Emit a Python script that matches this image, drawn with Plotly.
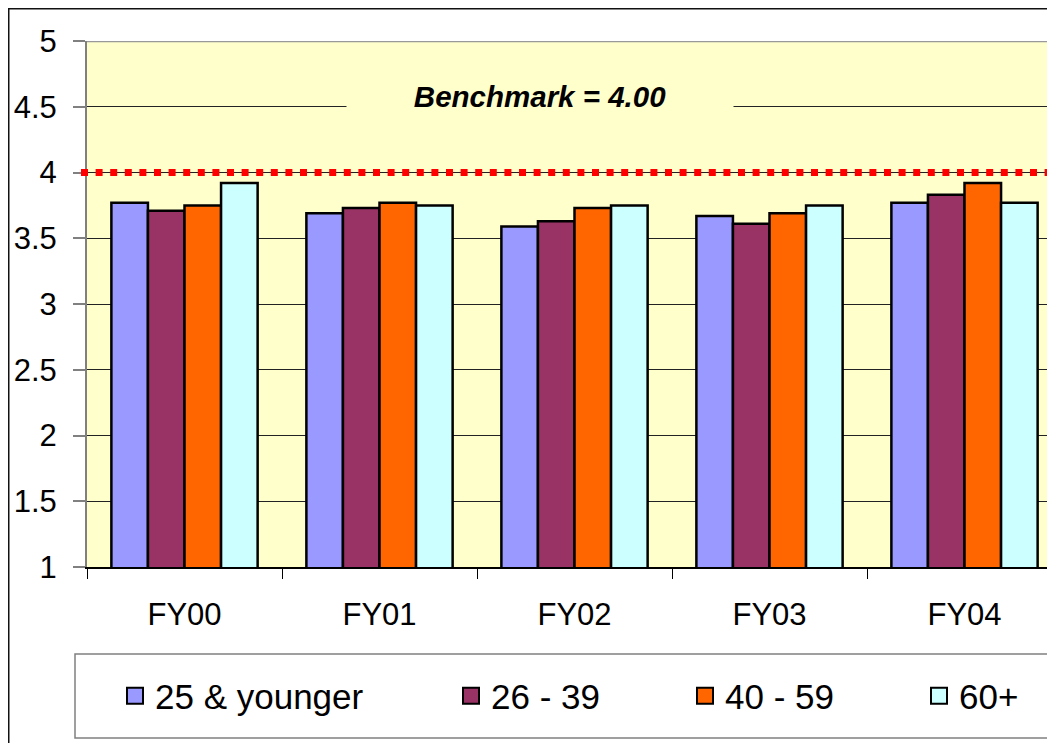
import plotly.graph_objects as go

categories = ["FY00", "FY01", "FY02", "FY03", "FY04"]
series_names = ["25 & younger", "26 - 39", "40 - 59", "60+"]
age_25_younger = [3.77, 3.69, 3.59, 3.67, 3.77]
age_26_39 = [3.71, 3.73, 3.63, 3.61, 3.83]
age_40_59 = [3.75, 3.77, 3.73, 3.69, 3.92]
age_60_plus = [3.92, 3.75, 3.75, 3.75, 3.77]
benchmark = 4.0
y_ticks = [1, 1.5, 2, 2.5, 3, 3.5, 4, 4.5, 5]

series_values = [age_25_younger, age_26_39, age_40_59, age_60_plus]
colors = ["#9999FF", "#993366", "#FF6600", "#CCFFFF"]

FONT = "Liberation Sans, Arial, sans-serif"
OFF = 8  # default page body margin
W, H = 1039, 735
L, T = 87 - OFF, 41 - OFF
B = H - (567 - OFF)
PW = W - L
PH = H - T - B


def px_x(p):
    """page pixel x -> paper x"""
    return (p - OFF - L) / PW


def px_y(p):
    """page pixel y -> paper y"""
    return (H - B - (p - OFF)) / PH


fig = go.Figure()
for name, vals, col in zip(series_names, series_values, colors):
    fig.add_trace(go.Bar(
        x=categories, y=vals, name=name, showlegend=False,
        marker=dict(color=col, line=dict(color="black", width=2.5)),
    ))

legend_ids = ["legend", "legend2", "legend3", "legend4"]
marker_centers = [137, 473, 707, 941]
for name, col, lid in zip(series_names, colors, legend_ids):
    fig.add_trace(go.Scatter(
        x=[None], y=[None], mode="markers", name=name, legend=lid,
        marker=dict(symbol="square", size=16, color=col,
                    line=dict(color="black", width=2)),
    ))

legend_common = dict(
    orientation="h", yanchor="middle", xanchor="left",
    bgcolor="rgba(0,0,0,0)", borderwidth=0,
    font=dict(family=FONT, size=35, color="black"),
)
legend_layout = {}
for lid, mc in zip(legend_ids, marker_centers):
    legend_layout[lid] = dict(legend_common, x=px_x(mc - 22), y=px_y(696))

fig.update_layout(
    width=W, height=H,
    margin=dict(l=L, r=0, t=T, b=B),
    paper_bgcolor="white",
    plot_bgcolor="#FFFFCC",
    barmode="group", bargap=0.25, bargroupgap=0,
    font=dict(family=FONT, color="black"),
    **legend_layout,
)

x_right = -0.5 + (1047 - 87) / 195.0
fig.update_xaxes(
    range=[-0.5, x_right], showline=True, linecolor="black", linewidth=1.5,
    ticks="outside", tickson="boundaries", ticklen=10, tickcolor="black",
    tickwidth=1, showgrid=False, tickfont=dict(size=31, family=FONT),
    ticklabelstandoff=19,
)
fig.update_yaxes(
    range=[1, 5], tickvals=y_ticks, showline=True, linecolor="#808080",
    linewidth=2, ticks="outside", ticklen=12, tickcolor="#808080", tickwidth=1.5,
    showgrid=True, gridcolor="#222222", gridwidth=1, zeroline=False,
    tickfont=dict(size=31, family=FONT), ticklabelstandoff=10,
)

# plot area top border
fig.add_shape(type="line", xref="paper", yref="y", x0=0, x1=1, y0=5, y1=5,
              line=dict(color="#999999", width=2.5))
# benchmark dotted line
fig.add_shape(type="line", xref="paper", yref="y", x0=px_x(81), x1=1,
              y0=benchmark, y1=benchmark,
              line=dict(color="#FF0000", width=7, dash="7px,7.6px"))
# outer chart border
fig.add_shape(type="rect", xref="paper", yref="paper",
              x0=px_x(8.75), x1=1.2, y0=px_y(8.75), y1=px_y(800),
              line=dict(color="#111111", width=1.5), fillcolor="rgba(0,0,0,0)")
# legend box
fig.add_shape(type="rect", xref="paper", yref="paper",
              x0=px_x(75), x1=1.2, y0=px_y(654), y1=px_y(738),
              line=dict(color="#808080", width=1.5), fillcolor="rgba(0,0,0,0)")

fig.add_annotation(
    xref="paper", yref="y", x=px_x(540), y=5 - (96 - 41) / (PH / 4),
    text="<b><i>Benchmark = 4.00</i></b>", showarrow=False,
    font=dict(family=FONT, size=29.5, color="black"),
    bgcolor="#FFFFCC", width=384, height=40,
)

fig.write_html("out.html")
